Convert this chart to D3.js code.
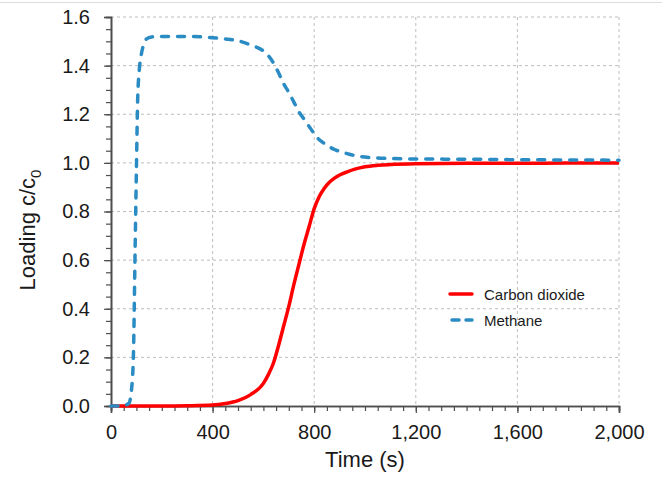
<!DOCTYPE html>
<html>
<head>
<meta charset="utf-8">
<script src="https://cdn.jsdelivr.net/npm/d3@7"></script>
<style>
  body { margin: 0; background: #fff; }
  text { font-family: Helvetica, "Liberation Sans", Arial, sans-serif; fill: #1a1a1a; }
</style>
</head>
<body>
<div id="chart"></div>
<script>
// time in seconds
const time = [0, 40, 70, 80, 88, 95, 100, 105, 112, 120, 130, 140, 160, 200, 300, 400, 450, 500, 550, 600,
  620, 640, 660, 680, 700, 720, 740, 760, 780, 800, 820, 840, 860, 880, 900, 930, 960, 1000, 1050, 1100, 1200, 1400, 1600, 1800, 2000]
const carbonDioxide = [0, 0, 0, 0, 0, 0, 0, 0, 0, 0, 0, 0, 0, 0, 0.001, 0.004, 0.01, 0.022, 0.047, 0.093,
  0.13, 0.178, 0.25, 0.33, 0.41, 0.5, 0.583, 0.665, 0.738, 0.812, 0.862, 0.896, 0.92, 0.937, 0.95, 0.963, 0.974, 0.984, 0.99, 0.993, 0.996, 0.998, 0.998, 0.999, 0.999]
const methane = [0, 0, 0.01, 0.06, 0.2, 0.65, 0.97, 1.26, 1.39, 1.45, 1.49, 1.51, 1.518, 1.52, 1.52, 1.515, 1.51, 1.502, 1.485, 1.46,
  1.44, 1.41, 1.37, 1.325, 1.29, 1.25, 1.21, 1.18, 1.15, 1.12, 1.095, 1.08, 1.066, 1.055, 1.047, 1.038, 1.03, 1.024, 1.02, 1.018, 1.016, 1.015, 1.013, 1.012, 1.011]
const xTicks = [0, 400, 800, 1200, 1600, 2000]
const yTicks = [0, 0.2, 0.4, 0.6, 0.8, 1.0, 1.2, 1.4, 1.6]
const seriesNames = ['Carbon dioxide', 'Methane']

const width = 662, height = 482
const margin = { top: 17, right: 43, bottom: 76, left: 111 }
const w = width - margin.left - margin.right
const h = height - margin.top - margin.bottom

const svg = d3.select('#chart').append('svg')
    .attr('width', width)
    .attr('height', height)

// thin rule at top of figure
svg.append('line')
    .attr('x1', 0).attr('x2', width)
    .attr('y1', 2.5).attr('y2', 2.5)
    .attr('stroke', '#dcdcdc')

const g = svg.append('g').attr('transform', `translate(${margin.left},${margin.top})`)

const x = d3.scaleLinear().domain([0, 2000]).range([0, w])
const y = d3.scaleLinear().domain([0, 1.6]).range([h, 0])

// grid
g.append('g').selectAll('line').data(xTicks.slice(1)).join('line')
    .attr('x1', d => x(d)).attr('x2', d => x(d))
    .attr('y1', 0).attr('y2', h)
    .attr('stroke', '#bdbdbd').attr('stroke-dasharray', '3,3')
g.append('g').selectAll('line').data(yTicks.slice(1)).join('line')
    .attr('x1', 0).attr('x2', w)
    .attr('y1', d => y(d)).attr('y2', d => y(d))
    .attr('stroke', '#bdbdbd').attr('stroke-dasharray', '3,3')

// minor ticks
const xMinor = d3.range(0, 2001, 50)
const yMinor = d3.range(0, 1.6001, 0.05)
const xAxisMinor = g.append('g')
    .attr('transform', `translate(0,${h})`)
    .call(d3.axisBottom(x).tickValues(xMinor).tickSize(5).tickFormat(''))
const yAxisMinor = g.append('g')
    .call(d3.axisLeft(y).tickValues(yMinor).tickSize(5).tickFormat(''))

// major axes
const xAxis = g.append('g')
    .attr('transform', `translate(0,${h})`)
    .call(d3.axisBottom(x).tickValues(xTicks).tickSize(7).tickPadding(12).tickFormat(d3.format(',')))
const yAxis = g.append('g')
    .call(d3.axisLeft(y).tickValues(yTicks).tickSize(7).tickPadding(14).tickFormat(d3.format('.1f')))

;[xAxisMinor, yAxisMinor, xAxis, yAxis].forEach(a => {
    a.select('.domain').attr('stroke', '#4d4d4d').attr('stroke-width', 1.6)
    a.selectAll('.tick line').attr('stroke', '#4d4d4d').attr('stroke-width', 1.2)
})
;[xAxis, yAxis].forEach(a => {
    a.selectAll('.tick text')
        .style('font-size', '20px')
        .style('font-family', 'Helvetica, "Liberation Sans", Arial, sans-serif')
        .attr('fill', '#1a1a1a')
})

// lines
const line = d3.line()
    .x((d, i) => x(time[i]))
    .y(d => y(d))
    .curve(d3.curveMonotoneX)

g.append('path')
    .datum(carbonDioxide)
    .attr('fill', 'none')
    .attr('stroke', '#ff0000')
    .attr('stroke-width', 3.5)
    .attr('d', line)

g.append('path')
    .datum(methane)
    .attr('fill', 'none')
    .attr('stroke', '#2b8cc4')
    .attr('stroke-width', 3.5)
    .attr('stroke-linecap', 'round')
    .attr('stroke-dasharray', '7,9')
    .attr('d', line)

// axis titles
svg.append('text')
    .attr('x', margin.left + w / 2)
    .attr('y', 467)
    .attr('text-anchor', 'middle')
    .style('font-size', '22px')
    .text('Time (s)')

const yTitle = svg.append('text')
    .attr('transform', `translate(35,230) rotate(-90)`)
    .attr('text-anchor', 'middle')
    .style('font-size', '22px')
yTitle.append('tspan').text('Loading c/c')
yTitle.append('tspan').attr('dy', 6).style('font-size', '15px').text('0')

// legend
const legend = svg.append('g').attr('transform', 'translate(448,294)')
seriesNames.forEach((name, i) => {
    const row = legend.append('g').attr('transform', `translate(0,${i * 26})`)
    row.append('line')
        .attr('x1', i === 0 ? 2 : 4).attr('x2', 24)
        .attr('stroke', i === 0 ? '#ff0000' : '#2b8cc4')
        .attr('stroke-width', 3.5)
        .attr('stroke-linecap', 'round')
        .attr('stroke-dasharray', i === 0 ? null : '7,7')
    row.append('text')
        .attr('x', 36).attr('y', 5.5)
        .style('font-size', '15px')
        .text(name)
})
</script>
</body>
</html>
